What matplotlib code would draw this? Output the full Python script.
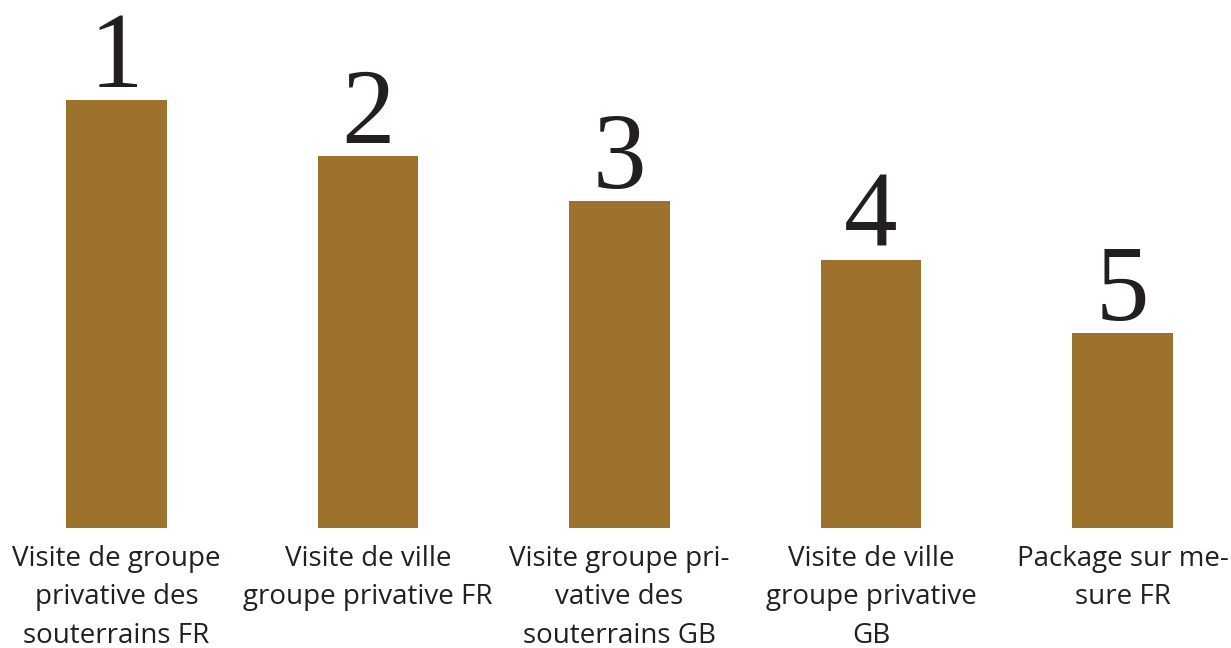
import numpy as np
import matplotlib
matplotlib.use("Agg")
import matplotlib.pyplot as plt

# Data
labels = ["Visite de groupe\nprivative des\nsouterrains FR",
          "Visite de ville\ngroupe privative FR",
          "Visite groupe pri-\nvative des\nsouterrains GB",
          "Visite de ville\ngroupe privative\nGB",
          "Package sur me-\nsure FR"]
ranks = ["1", "2", "3", "4", "5"]
values = [428, 372, 327, 268, 195]

bar_color = "#9C722C"
text_color = "#231F20"

fig = plt.figure(figsize=(12.31, 6.48), dpi=100)
ax = fig.add_axes([0, 120 / 648, 1, 528 / 648])

x = np.arange(len(values))
ax.bar(x, values, width=0.40, color=bar_color)

for xi, v, r in zip(x, values, ranks):
    ax.text(xi, v + 13, r, ha="center", va="baseline", fontsize=77,
            family="Liberation Serif", color=text_color)

for xi, lab in zip(x, labels):
    ax.annotate(lab, xy=(xi, 0), xycoords="data", xytext=(0, -12),
                textcoords="offset points", ha="center", va="top",
                fontsize=20, family="Open Sans", color=text_color,
                linespacing=1.5)

ax.set_xlim(-0.463, 4.431)
ax.set_ylim(0, 528)
ax.axis("off")

fig.savefig("out.png", dpi=100)
